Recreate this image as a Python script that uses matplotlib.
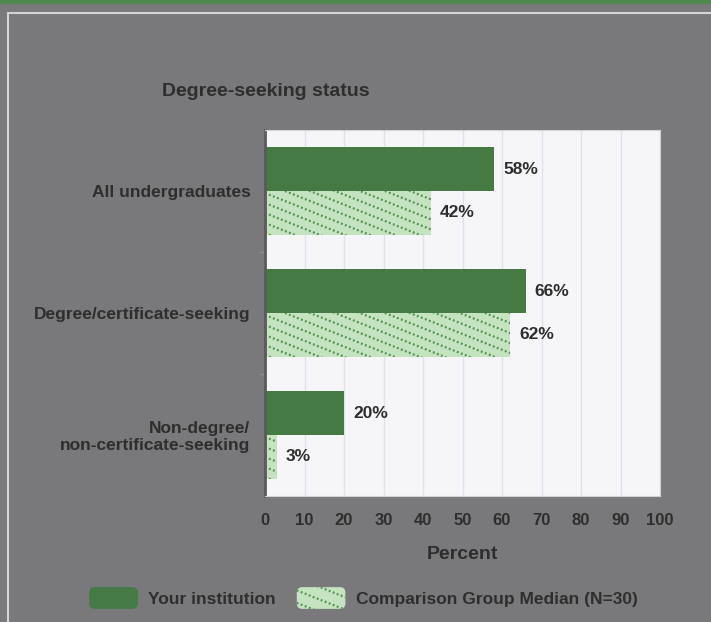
import matplotlib
matplotlib.use('Agg')
import matplotlib.pyplot as plt
import numpy as np
from matplotlib.patches import Rectangle, FancyBboxPatch, Patch
from matplotlib.lines import Line2D
from matplotlib.legend_handler import HandlerPatch

# 数据
categories = ['All undergraduates', 'Degree/certificate-seeking',
              'Non-degree/\nnon-certificate-seeking']
your_inst = [58, 66, 20]
comparison = [42, 62, 3]
legend_labels = ['Your institution', 'Comparison Group Median (N=30)']
title = 'Degree-seeking status'

dark_green = '#467a44'
light_green = '#c5e3c1'
dot_green = '#4f8f4b'
bg = '#79797b'
txt = '#2e2e2e'

plt.rcParams['font.family'] = ['Liberation Sans', 'DejaVu Sans']
plt.rcParams['lines.scale_dashes'] = False
dot_style = (0, (1.3, 1.8))

fig = plt.figure(figsize=(7.11, 6.22), dpi=100, facecolor=bg)

# 顶部绿色条和面板边框
fig.patches.append(Rectangle((0, 1 - 4 / 622), 1, 4 / 622, transform=fig.transFigure,
                             facecolor='#4f8a4b', edgecolor='none'))
fig.patches.append(Rectangle((7.5 / 711, -0.01), 1, 1 - 12.5 / 622 + 0.01, transform=fig.transFigure,
                             facecolor='none', edgecolor='#d4d4d4', linewidth=1.5))

ax = fig.add_axes([265 / 711, 1 - 496 / 622, 395 / 711, 366 / 622])
ax.set_facecolor('#f6f6f8')
ax.set_xlim(0, 100)
ax.set_ylim(len(categories) - 0.5, -0.5)

y = np.arange(len(categories))
h = 0.36
b1 = ax.barh(y - h / 2, your_inst, height=h, color=dark_green, edgecolor='none')
b2 = ax.barh(y + h / 2, comparison, height=h, color=light_green, edgecolor='none')

# 斜点线填充（裁剪到柱子内）
px_x = 395 / 100.0          # 每个x单位的像素
px_y = 366 / len(categories)  # 每个y单位的像素
slope = 0.4 * px_x / px_y
step = 10 / px_y
for bar in b2:
    y0 = bar.get_y()
    for off in np.arange(y0 - slope * 100, y0 + bar.get_height() + step, step):
        ln = Line2D([0, 100], [off, off + slope * 100], color=dot_green, linewidth=1.6,
                    linestyle=dot_style)
        ax.add_line(ln)
        ln.set_clip_path(bar)

for bars, vals in [(b1, your_inst), (b2, comparison)]:
    for bar, v in zip(bars, vals):
        ax.annotate(f'{v}%', xy=(v, bar.get_y() + bar.get_height() / 2),
                    xytext=(6.5, 0), textcoords='offset points', ha='left', va='center',
                    fontsize=12.5, fontweight='bold', color=txt)

ax.set_xticks(range(0, 101, 10))
ax.set_yticks(y)
ax.set_yticklabels(categories, ha='right', multialignment='right', linespacing=1.15)
ax.set_yticks([0.5, 1.5], minor=True)
ax.tick_params(axis='y', which='minor', length=4, width=1, color='#8a8a8a')
ax.tick_params(axis='y', length=0, pad=10.5, labelsize=12.5, labelcolor=txt)
ax.tick_params(axis='x', length=0, pad=12.5, labelsize=12, labelcolor=txt)
for lab in ax.get_xticklabels() + ax.get_yticklabels():
    lab.set_fontweight('bold')
ax.grid(axis='x', color='#dde3ee', linewidth=1)
ax.set_axisbelow(True)
for s in ['top', 'right', 'bottom']:
    ax.spines[s].set_color('#d0d0d8')
ax.spines['left'].set_color('#5a5a5a')
ax.spines['left'].set_linewidth(2)

ax.set_xlabel('Percent', fontsize=14, fontweight='bold', color=txt, labelpad=13)
fig.text(162 / 711, 1 - 91 / 622, title, fontsize=14, fontweight='bold', color=txt,
         ha='left', va='center')


class RoundHandler(HandlerPatch):
    def __init__(self, dotted=False):
        super().__init__()
        self.dotted = dotted

    def create_artists(self, legend, orig_handle, xdescent, ydescent, width, height,
                       fontsize, trans):
        box = FancyBboxPatch((-xdescent, -ydescent), width, height,
                             boxstyle='round,pad=0,rounding_size=4',
                             facecolor=orig_handle.get_facecolor(), edgecolor='none',
                             transform=trans)
        arts = [box]
        if self.dotted:
            for off in np.arange(-height, height * 1.2, 9):
                ln = Line2D([-xdescent, -xdescent + width],
                            [-ydescent + height - off, -ydescent + height - off - 0.4 * width],
                            color=dot_green, linewidth=1.6, linestyle=dot_style,
                            transform=trans)
                ln.set_clip_path(box)
                arts.append(ln)
        return arts


handles = [Patch(facecolor=dark_green), Patch(facecolor=light_green)]
leg = fig.legend(handles, legend_labels, loc='center', bbox_to_anchor=(363.5 / 711, 1 - 598 / 622),
                 ncol=2, frameon=False, handlelength=2.8, handleheight=1.55,
                 columnspacing=1.2, handletextpad=0.6, prop={'size': 12.5, 'weight': 'bold'},
                 handler_map={handles[0]: RoundHandler(), handles[1]: RoundHandler(True)})
for t in leg.get_texts():
    t.set_color(txt)

fig.savefig('out.png', dpi=100, facecolor=bg)
